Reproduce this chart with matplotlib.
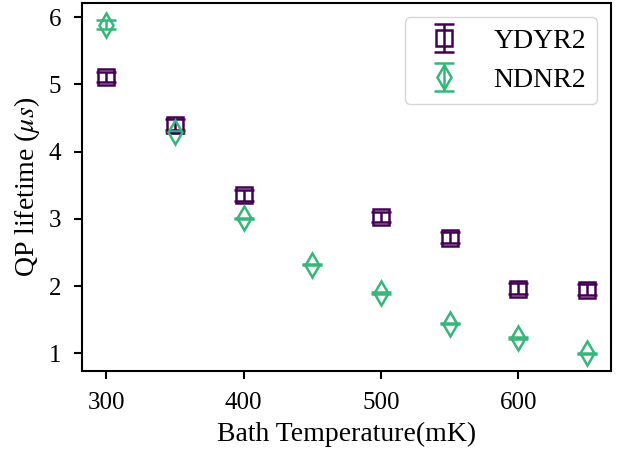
import matplotlib
matplotlib.use('Agg')
import matplotlib.pyplot as plt

# bath temperatures (mK) and QP lifetimes (us)
temp_y = [300, 350, 400, 500, 550, 600, 650]
tau_y = [5.11, 4.40, 3.35, 3.03, 2.72, 1.96, 1.95]
err_y = [0.08, 0.08, 0.08, 0.08, 0.08, 0.08, 0.08]

temp_n = [300, 350, 400, 450, 500, 550, 600, 650]
tau_n = [5.89, 4.29, 3.01, 2.32, 1.90, 1.44, 1.23, 1.00]
err_n = [0.07, 0.01, 0.01, 0.01, 0.01, 0.01, 0.01, 0.01]

plt.rcParams['font.family'] = ['Liberation Serif', 'DejaVu Serif']
plt.rcParams['mathtext.fontset'] = 'stix'
plt.rcParams['font.size'] = 20

fig, ax = plt.subplots(figsize=(6.18, 4.5), dpi=100)
ax.errorbar(temp_y, tau_y, yerr=err_y, fmt='s', color='#440154', mfc='none',
            ms=12, mew=1.8, capsize=7, elinewidth=1.8, capthick=1.8, label='YDYR2')
ax.errorbar(temp_n, tau_n, yerr=err_n, fmt='d', color='#35b779', mfc='none',
            ms=12.5, mew=1.8, capsize=7, elinewidth=1.8, capthick=1.8, label='NDNR2')

ax.set_xlabel('Bath Temperature(mK)', fontsize=20, labelpad=6)
ax.set_ylabel(r'QP lifetime ($\mu s$)', fontsize=20, labelpad=5)
ax.set_xticks([300, 400, 500, 600])
ax.set_yticks([1, 2, 3, 4, 5, 6])
ax.tick_params(labelsize=18, width=1.5, length=6, pad=9)
ax.legend(loc='upper right', fontsize=20)
for s in ax.spines.values():
    s.set_linewidth(1.5)

fig.subplots_adjust(left=0.133, right=0.989, top=0.993, bottom=0.176)
fig.savefig('out.png', dpi=100)
